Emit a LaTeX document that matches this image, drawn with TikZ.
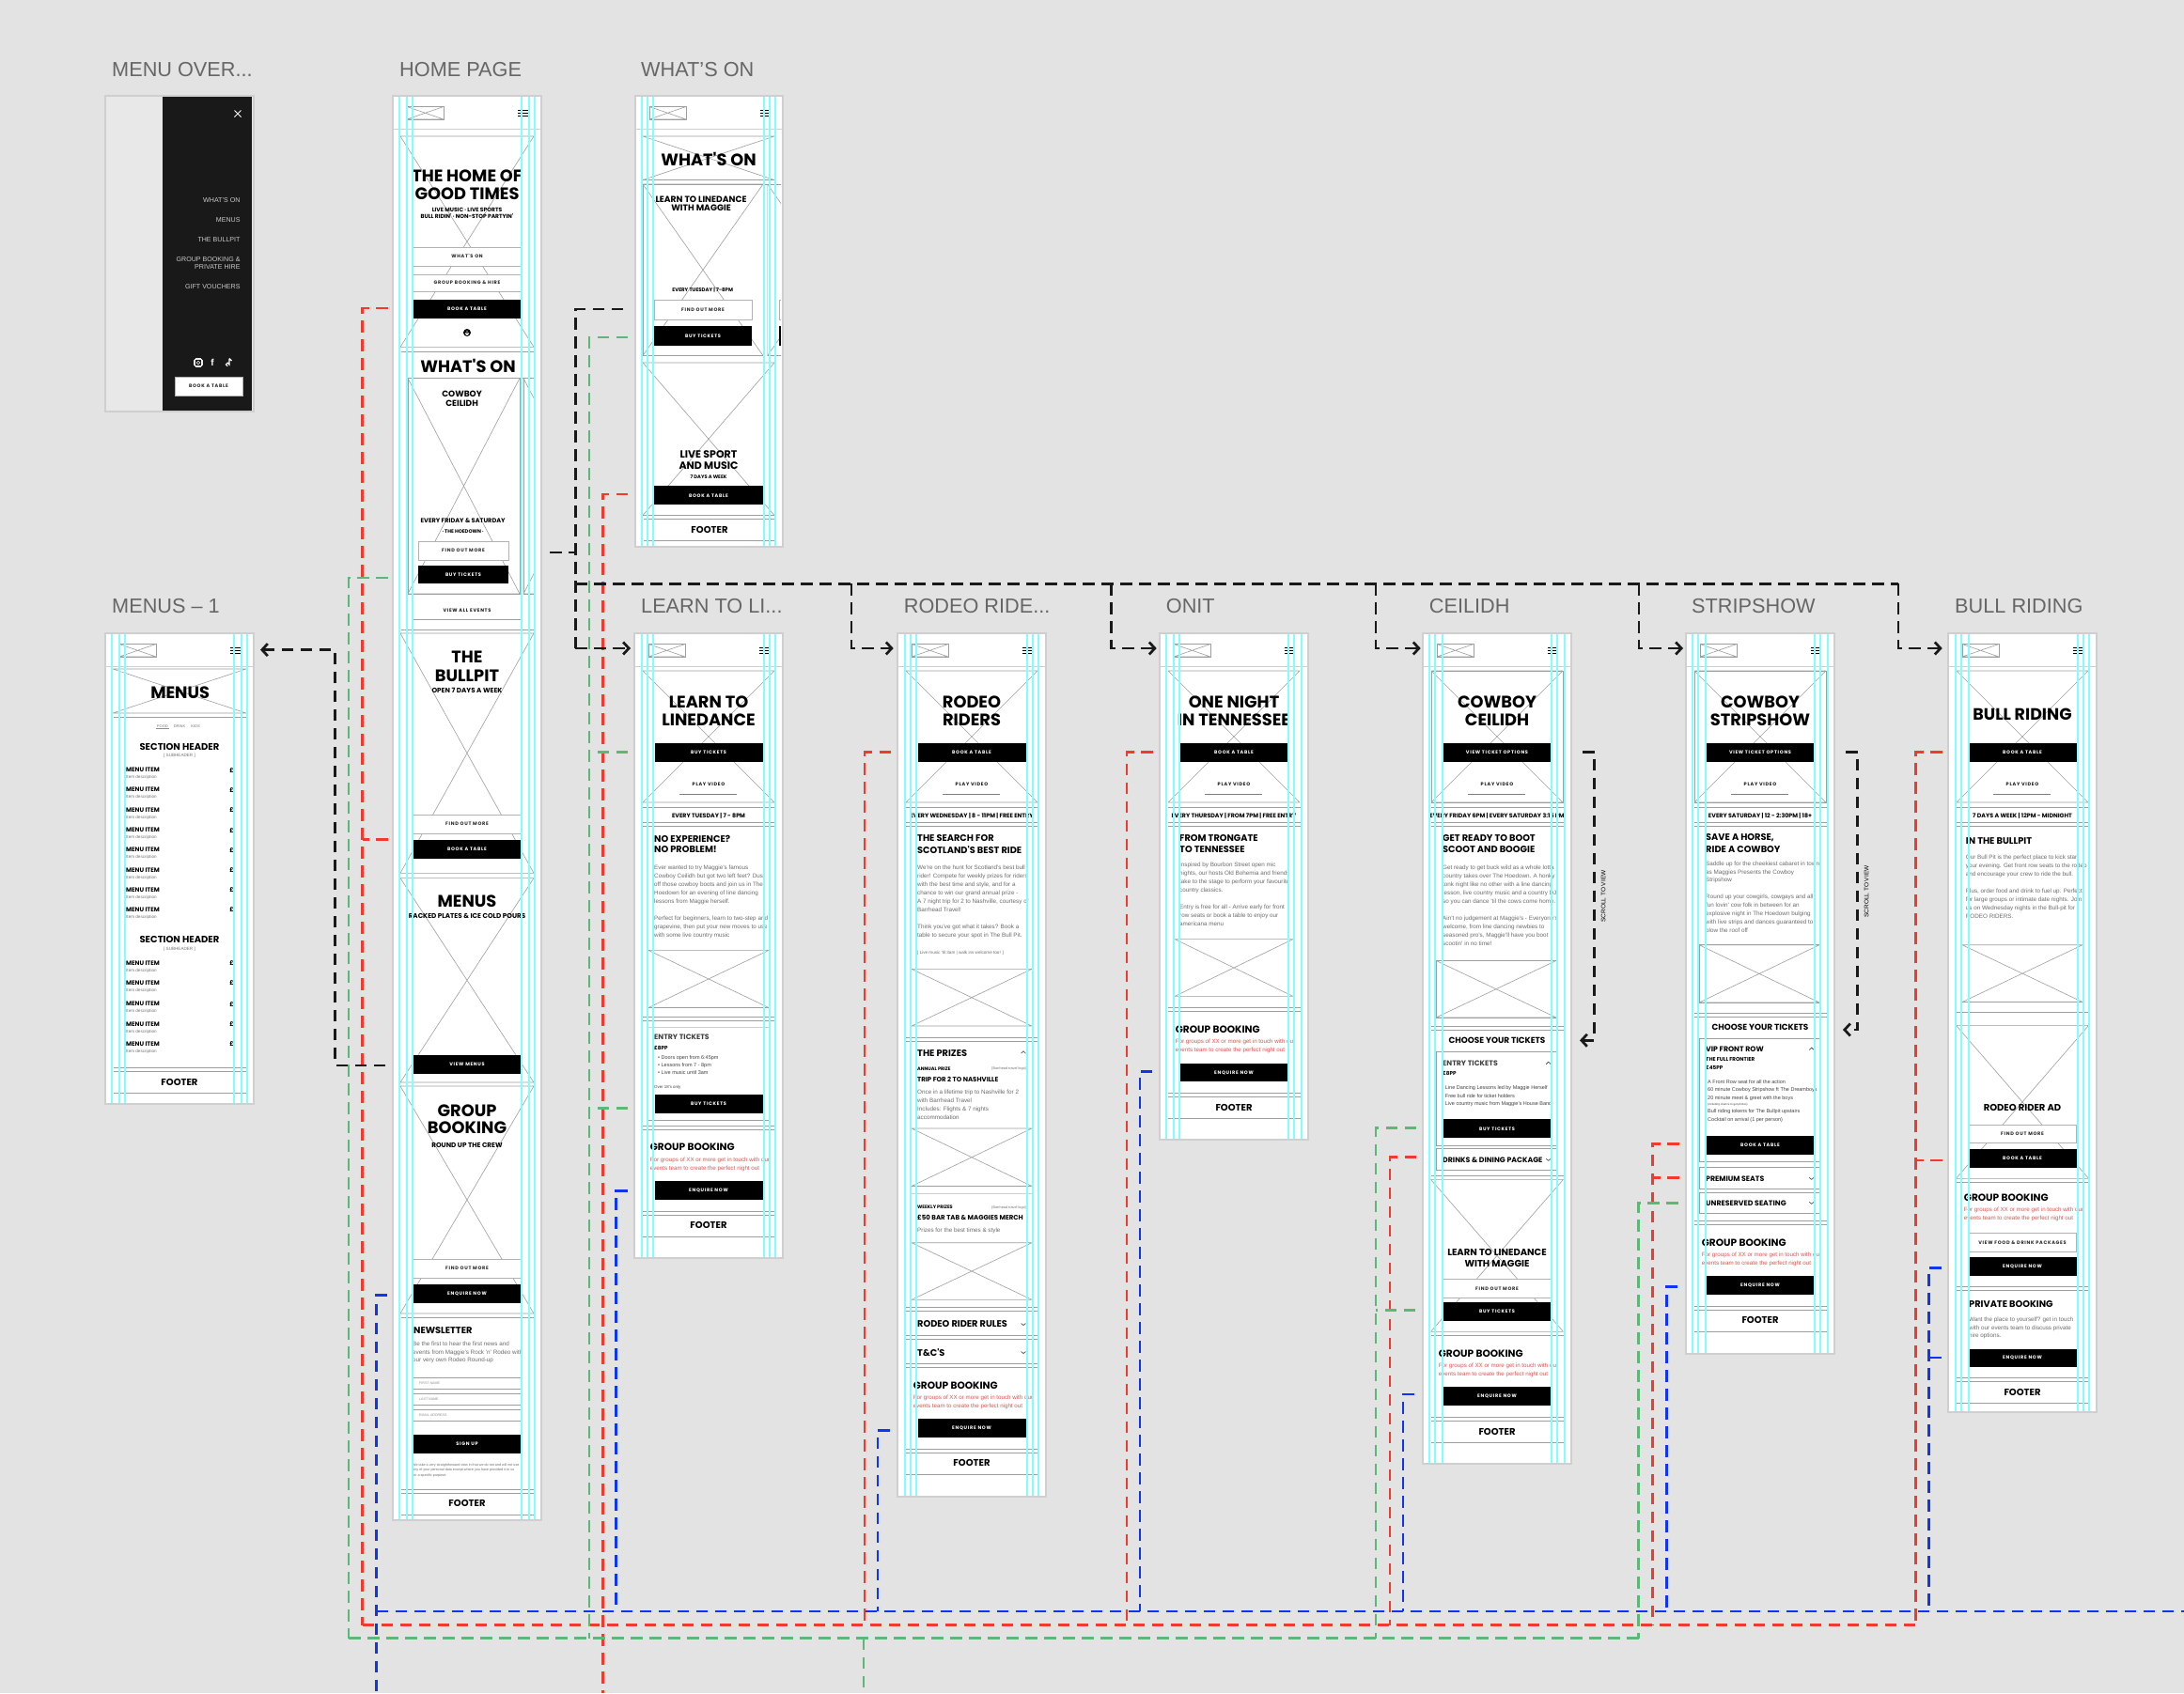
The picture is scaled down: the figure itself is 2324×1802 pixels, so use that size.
\documentclass[tikz,border=0pt]{standalone}
\usepackage{fontspec}
\usepackage{xcolor}
\usetikzlibrary{calc, positioning, arrows.meta}
\setmainfont{Liberation Sans}
\newfontfamily\mont{Poppins}
\newfontfamily\montsp[LetterSpace=14]{Poppins}
\definecolor{bgc}{HTML}{E3E3E3}
\definecolor{edge}{HTML}{CFCFCF}
\definecolor{wirec}{HTML}{9E9E9E}
\definecolor{guide}{HTML}{7FFFFF}
\definecolor{redl}{HTML}{EE3A2F}
\definecolor{grnl}{HTML}{5CB874}
\definecolor{blul}{HTML}{0F35F0}
\definecolor{redt}{HTML}{D9534F}
\newcounter{nd}
\newcommand{\mf}[1]{\mont\bfseries\fontsize{#1}{#1}\selectfont}
\tikzset{
  scr/.style={draw=edge, line width=2pt, fill=white, inner sep=0, outer sep=0, anchor=north west},
  ttl/.style={inner sep=0, anchor=west, text=black!60, font=\fontsize{21.7}{22}\selectfont},
  wire/.style={draw=wirec, line width=.6pt},
  rul/.style={draw=wirec, line width=.9pt},
  txt/.style={inner sep=0},
  hd/.style={font=\mf{17.8}},
  sb/.style={font=\mf{6}},
  sbb/.style={font=\mf{7.2}},
  hb/.style={anchor=west, font=\mf{9.8}},
  hc/.style={font=\mf{10}},
  hm/.style={anchor=west, font=\mf{7.8}},
  hr/.style={anchor=west, font=\mf{9.8}},
  bd/.style={anchor=west, text=black!58, font=\fontsize{6.3}{6}\selectfont},
  bdr/.style={anchor=west, text=redt, font=\fontsize{6.2}{6}\selectfont},
  tn/.style={anchor=west, text=black!75, font=\fontsize{5.5}{6}\selectfont},
  sm/.style={text=black!55, font=\fontsize{4.6}{5}\selectfont},
  lab/.style={font=\montsp\bfseries\fontsize{5}{5}\selectfont},
  mi/.style={anchor=west, font=\mf{6.5}},
  dsh/.style={dash pattern=on 12.5pt off 7.5pt, line width=2.7pt},
  rd/.style={dsh, draw=redl},
  gn/.style={dsh, draw=grnl},
  bu/.style={dsh, draw=blul},
  bk/.style={dsh, draw=black!90},
  bkt/.style={bk, -{Straight Barb[length=6pt,width=13pt]}}
}
\newcommand{\tx}[4][]{\stepcounter{nd}\node[txt,#1] (t\arabic{nd}) at ({#2},{#3}) {#4};}
\newcommand{\xbox}[4]{\draw[wire] (#1,#2) -- (#3,#2) (#1,#4) -- (#3,#4) (#1,#2) -- (#3,#4) (#1,#4) -- (#3,#2);}
\newcommand{\xboxf}[4]{\xbox{#1}{#2}{#3}{#4} \draw[wire] (#1,#2) rectangle (#3,#4);}
\newcommand{\rules}[1]{\foreach \yy in {#1} \draw[rul] (8.5,\yy) -- (149.5,\yy);}
\newcommand{\bbx}[5]{\fill[black] (#1,#3) rectangle (#2,#4); \tx[lab,text=white]{(#1+#2)/2}{(#3+#4)/2}{#5}}
\newcommand{\bbtn}[3]{\bbx{21.5}{136.5}{#1}{#2}{#3}}
\newcommand{\wbx}[5]{\draw[rul, fill=white, draw=black!30] (#1,#3) rectangle (#2,#4); \tx[lab,text=black!85]{(#1+#2)/2}{(#3+#4)/2}{#5}}
\newcommand{\wbtn}[3]{\wbx{21.5}{136.5}{#1}{#2}{#3}}
\newcommand{\hdr}[1]{
  \xboxf{15}{#1+11.5}{54}{#1+25}
  \foreach \dd in {15.5,18.5,21.5} \draw[black, line width=.7pt] (133,#1+\dd) -- (143.5,#1+\dd);
  \draw[draw=edge, line width=.8pt] (0,#1+35) -- (158,#1+35);
}
\newcommand{\chev}[3]{\draw[black!80, line width=.6pt] (#1-2.5,#2-#3) -- (#1,#2+#3) -- (#1+2.5,#2-#3);}
\newcommand{\evtop}[2]{
  \hdr{674}
  \xbox{9}{714}{149}{854}
  \bbtn{791}{811}{#1}
  \tx[lab,text=black!90]{79}{835}{PLAY VIDEO}
  \draw[draw=black!50, line width=.7pt] (48,845) -- (109,845);
  \rules{859,875.5,879.6}
  \tx[font=\mf{6.3}]{79}{868}{#2}
}
\newcommand{\ttwo}[2]{\tx[hd]{79}{747}{#1} \tx[hd]{79}{766}{#2}}
\newcommand{\grptxt}[1]{
  \tx[hb, font=\mf{10.6}]{16.7}{#1}{GROUP BOOKING}
  \tx[bdr]{16.7}{#1+13.4}{For groups of XX or more get in touch with our}
  \tx[bdr]{16.7}{#1+22.4}{events team to create the perfect night out}
}
\newcommand{\foot}[1]{
  \rules{#1,#1+4,#1+27}
  \tx[font=\mf{10}]{79}{#1+15}{FOOTER}
}
\newcommand{\guides}[1]{\foreach \gx/\gt/\gb in {#1} \draw[guide, line width=2.4pt] (\gx,\gt) -- (\gx,\gb);}
\newcommand{\gset}[9]{\guides{#1/#8/#9,#2/#8/#9,#3/#8/#9,#4/#8/#9,#5/#8/#9,#6/#8/#9}}

\begin{document}
\begin{tikzpicture}[x=1pt, y=-1pt]
\useasboundingbox (0,0) rectangle (2324,1802);
\fill[bgc] (0,0) rectangle (2324,1802);

\node[scr, fill=black!9, minimum width=158pt, minimum height=336pt] (over) at (112,102) {};
\node[scr, minimum width=158pt, minimum height=1516pt] (home) at (418,102) {};
\node[scr, minimum width=157pt, minimum height=480pt] (whats) at (676,102) {};
\node[scr, minimum width=158pt, minimum height=501pt] (menus) at (112,674) {};
\node[scr, minimum width=158pt, minimum height=665pt] (learn) at (675,674) {};
\node[scr, minimum width=158pt, minimum height=919pt] (rodeo) at (955,674) {};
\node[scr, minimum width=158pt, minimum height=539pt] (onit) at (1234,674) {};
\node[scr, minimum width=158pt, minimum height=884pt] (ceil) at (1514,674) {};
\node[scr, minimum width=158pt, minimum height=767pt] (strip) at (1794,674) {};
\node[scr, minimum width=158pt, minimum height=829pt] (bull) at (2073,674) {};

\node[ttl] (overt) at (119,74) {MENU OVER...};
\node[ttl] (homet) at (425,74) {HOME PAGE};
\node[ttl] (whatst) at (682,74) {WHAT'S ON};
\node[ttl] (menust) at (119,645) {MENUS – 1};
\node[ttl] (learnt) at (682,645) {LEARN TO LI...};
\node[ttl] (rodeot) at (961.7,645) {RODEO RIDE...};
\node[ttl] (onitt) at (1240.7,645) {ONIT};
\node[ttl] (ceilt) at (1520.7,645) {CEILIDH};
\node[ttl] (stript) at (1800,645) {STRIPSHOW};
\node[ttl] (bullt) at (2080,645) {BULL RIDING};

\begin{scope}[shift={(112,0)}]
\fill[black!90] (60.7,103) rectangle (156,437);
\draw[white, line width=.8pt] (137.5,117.5) -- (144.5,124.5) (137.5,124.5) -- (144.5,117.5);
\foreach \yy/\lb in {213/{WHAT'S ON},234/MENUS,255/THE BULLPIT,276/{GROUP BOOKING \&},284/PRIVATE HIRE,305/GIFT VOUCHERS}
  \tx[anchor=east, text=black!20, font=\fontsize{7.1}{7}\selectfont]{143.7}{\yy}{\lb}
\draw[white, line width=.6pt, rounded corners=1.5pt] (95,382) rectangle (103,390);
\draw[white, line width=.5pt] (99,386) circle (1.8);
\tx[text=white, font=\bfseries\fontsize{10}{10}\selectfont]{114}{386}{f}
\draw[white, line width=1.1pt] (132,381.5) -- (132,388) arc (0:-270:1.8) (132,381.5) -- (134.5,384);
\wbx{74}{146}{401}{421}{BOOK A TABLE}
\end{scope}

\begin{scope}[shift={(418,0)}]
\hdr{102}
\xbox{8}{145}{150}{369.3}
\tx[hd]{79}{187}{THE HOME OF}
\tx[hd]{79}{206}{GOOD TIMES}
\tx[sb]{79}{223.6}{LIVE MUSIC · LIVE SPORTS}
\tx[sb]{79}{230.4}{BULL RIDIN' · NON-STOP PARTYIN'}
\wbtn{263}{283}{WHAT'S ON}
\wbtn{292}{310}{GROUP BOOKING \& HIRE}
\bbtn{318.6}{338.6}{BOOK A TABLE}
\fill[black] (79,354) circle (4);
\draw[white, line width=.8pt] (79,351.5) -- (79,356) (77,354.5) -- (79,356.5) -- (81,354.5);
\rules{374.6}
\tx[hd]{80}{389}{WHAT'S ON}
\draw[rul] (16,402.5) -- (150,402.5);
\xboxf{16}{402.5}{135}{632}
\begin{scope}
\clip (139,402) rectangle (150,632);
\xboxf{139}{402.5}{258}{632}
\end{scope}
\tx[font=\mf{9}]{73.6}{419}{COWBOY}
\tx[font=\mf{9}]{73.6}{429}{CEILIDH}
\tx[font=\mf{6.6}]{74.6}{554.6}{EVERY FRIDAY \& SATURDAY}
\tx[font=\mf{5.2}]{74.6}{566}{· THE HOEDOWN ·}
\wbx{27}{123}{576}{596}{FIND OUT MORE}
\bbx{27}{123}{602}{621}{BUY TICKETS}
\fill[white] (21.5,633) rectangle (136.5,659.6);
\draw[rul] (21.5,659.6) -- (136.5,659.6);
\tx[lab,text=black!90]{79}{650}{VIEW ALL EVENTS}
\rules{670}
\xbox{8}{674}{150}{929.3}
\tx[hd]{79}{699}{THE}
\tx[hd]{79}{719}{BULLPIT}
\tx[sbb]{79}{735}{OPEN 7 DAYS A WEEK}
\wbtn{867}{887}{FIND OUT MORE}
\bbtn{893.6}{914}{BOOK A TABLE}
\xbox{8}{934.6}{150}{1152}
\tx[hd]{79}{959}{MENUS}
\tx[sbb]{79}{975}{RACKED PLATES \& ICE COLD POURS}
\bbtn{1123}{1143}{VIEW MENUS}
\xbox{8}{1156}{150}{1398}
\tx[hd]{79}{1182}{GROUP}
\tx[hd]{79}{1200.7}{BOOKING}
\tx[sbb]{79}{1218.6}{ROUND UP THE CREW}
\wbtn{1340}{1360}{FIND OUT MORE}
\bbtn{1366.6}{1387}{ENQUIRE NOW}
\rules{1402}
\tx[hb]{22}{1416}{NEWSLETTER}
\tx[bd]{21}{1430}{Be the first to hear the first news and}
\tx[bd]{21}{1439.5}{events from Maggie's Rock 'n' Rodeo with}
\tx[bd]{21}{1447.4}{our very own Rodeo Round-up}
\foreach \yy/\lb in {1466/FIRST NAME,1483/LAST NAME,1500/EMAIL ADDRESS} {
  \draw[rul] (21.5,\yy) -- (136.5,\yy) (21.5,\yy+12.5) -- (136.5,\yy+12.5);
  \tx[anchor=west, text=black!45, font=\fontsize{3.6}{4}\selectfont]{28}{\yy+6.2}{\lb}
}
\bbtn{1527}{1547}{SIGN UP}
\tx[bd, font=\fontsize{3.7}{4}\selectfont]{21}{1559.6}{We take a very straightforward view in that we do not and will not use}
\tx[bd, font=\fontsize{3.7}{4}\selectfont]{21}{1565}{any of your personal data except where you have provided it to us}
\tx[bd, font=\fontsize{3.7}{4}\selectfont]{21}{1571}{for a specific purpose.}
\foot{1585.3}
\end{scope}

\begin{scope}[shift={(676,0)}]
\hdr{102}
\xbox{8}{145}{148}{191.5}
\tx[hd]{78}{169}{WHAT'S ON}
\draw[rul] (8,196) -- (155,196);
\xboxf{8}{196}{136}{378.5}
\begin{scope}
\clip (140.7,196) rectangle (155,379);
\xboxf{140.7}{196}{268}{378.5}
\end{scope}
\tx[hc,font=\mf{9.2}]{70}{212}{LEARN TO LINEDANCE}
\tx[hc,font=\mf{9.2}]{70}{221.6}{WITH MAGGIE}
\tx[font=\mf{5.4}]{71.7}{309}{EVERY TUESDAY | 7-8PM}
\wbx{20}{124}{319.6}{340}{FIND OUT MORE}
\bbx{20}{124}{347.4}{367.6}{BUY TICKETS}
\fill[black] (153,347.4) rectangle (155,367.6);
\draw[rul, draw=black!30] (155,319.6) -- (153,319.6) -- (153,340) -- (155,340);
\xbox{8}{386}{148}{548.5}
\tx[font=\mf{11}]{78}{483.6}{LIVE SPORT}
\tx[font=\mf{11}]{78}{495.4}{AND MUSIC}
\tx[font=\mf{5.2}]{78}{508}{7 DAYS A WEEK}
\bbx{20}{136}{517.4}{537.4}{BOOK A TABLE}
\foot{548.5}
\end{scope}

\begin{scope}[shift={(112,0)}]
\hdr{674}
\xbox{8}{712}{150}{759}
\tx[hd]{79.7}{737}{MENUS}
\rules{763}
\tx[sm,font=\fontsize{4}{4}\selectfont]{61}{773.5}{FOOD}
\tx[sm,font=\fontsize{4}{4}\selectfont]{79}{773.5}{DRINK}
\tx[sm,font=\fontsize{4}{4}\selectfont]{96}{773.5}{KIDS}
\draw[black!45, line width=.3pt] (54,775.5) -- (68,775.5);
\foreach \yy in {794.5,1000.4} {
  \tx[hc]{79}{\yy}{SECTION HEADER}
  \tx[sm]{79}{\yy+10}{[ SUBHEADER ]}
}
\foreach \yy in {819.6,840.7,862.5,883.6,904.7,925.8,946.9,968,1025.5,1046.5,1068.7,1089.8,1111} {
  \tx[mi]{22}{\yy}{MENU ITEM}
  \tx[sm, anchor=west]{22}{\yy+8}{Item description}
  \tx[mi, anchor=east]{137}{\yy}{£}
}
\rules{1136.4,1140,1163.6}
\tx[font=\mf{10}]{79}{1152.4}{FOOTER}
\end{scope}

\begin{scope}[shift={(675,0)}]
\evtop{BUY TICKETS}{EVERY TUESDAY | 7 - 8PM}
\ttwo{LEARN TO}{LINEDANCE}
\tx[hb]{21}{892.5}{NO EXPERIENCE?}
\tx[hb]{21}{904}{NO PROBLEM!}
\tx[bd]{21}{923.6}{Ever wanted to try Maggie's famous}
\tx[bd]{21}{932.5}{Cowboy Ceilidh but got two left feet? Dust}
\tx[bd]{21}{941.4}{off those cowboy boots and join us in The}
\tx[bd]{21}{950.7}{Hoedown for an evening of line dancing}
\tx[bd]{21}{959.6}{lessons from Maggie herself.}
\tx[bd]{21}{977.5}{Perfect for beginners, learn to two-step and}
\tx[bd]{21}{986.8}{grapevine, then put your new moves to use}
\tx[bd]{21}{995.7}{with some live country music}
\xbox{15}{1011.4}{143}{1072.5}
\rules{1082,1086.4}
\draw[draw=edge, line width=.8pt] (15,1093) -- (143,1093);
\tx[hm, text=black!75]{21}{1104}{ENTRY TICKETS}
\tx[mi, font=\mf{5.6}]{21}{1115}{£8PP}
\tx[tn]{25}{1125.7}{• Doors open from 6:45pm}
\tx[tn]{25}{1134}{• Lessons from 7 - 8pm}
\tx[tn]{25}{1141.8}{• Live music until 3am}
\tx[tn, font=\fontsize{4.4}{4}\selectfont]{21}{1157}{Over 18's only}
\bbtn{1164.5}{1185}{BUY TICKETS}
\draw[rul] (15,1192.4) -- (143,1192.4);
\rules{1198,1202.4}
\grptxt{1221}
\bbtn{1257}{1277}{ENQUIRE NOW}
\foot{1289.3}
\end{scope}

\begin{scope}[shift={(955,0)}]
\evtop{BOOK A TABLE}{EVERY WEDNESDAY | 8 - 11PM | FREE ENTRY}
\ttwo{RODEO}{RIDERS}
\tx[hb]{21}{892}{THE SEARCH FOR}
\tx[hb]{21}{904.5}{SCOTLAND'S BEST RIDE}
\tx[bd]{21}{923.7}{We're on the hunt for Scotland's best bull}
\tx[bd]{21}{932.7}{rider!  Compete for weekly prizes for riders}
\tx[bd]{21}{941.6}{with the best time and style, and for a}
\tx[bd]{21}{950.6}{chance to win our grand annual prize -}
\tx[bd]{21}{959.6}{A 7 night trip for 2 to Nashville, courtesy of}
\tx[bd]{21}{968.6}{Barrhead Travel!}
\tx[bd]{21}{986.5}{Think you've got what it takes? Book a}
\tx[bd]{21}{995.5}{table to secure your spot in The Bull Pit.}
\tx[bd, font=\fontsize{4.6}{4}\selectfont]{21}{1014}{[ Live music 'til 3am | walk ins welcome too! ]}
\xbox{15}{1031.4}{143}{1092}
\rules{1104.8,1108.2}
\tx[hb]{21}{1121.3}{THE PRIZES}
\chev{134}{1120}{-1.2}
\tx[mi, font=\mf{5}]{21}{1138}{ANNUAL PRIZE}
\tx[sm, anchor=east, font=\fontsize{3.8}{4}\selectfont]{137}{1138}{[Barrhead travel logo]}
\tx[mi, font=\mf{7}]{21}{1148.5}{TRIP FOR 2 TO NASHVILLE}
\tx[bd]{21}{1162.6}{Once in a lifetime trip to Nashville for 2}
\tx[bd]{21}{1171.6}{with Barrhead Travel}
\tx[bd]{21}{1180.5}{Includes: Flights \& 7 nights}
\tx[bd]{21}{1189.5}{accommodation}
\xbox{15}{1201}{143}{1262.5}
\draw[draw=edge, line width=.8pt] (15,1270) -- (143,1270);
\tx[mi, font=\mf{5}]{21}{1285}{WEEKLY PRIZES}
\tx[sm, anchor=east, font=\fontsize{3.8}{4}\selectfont]{137}{1285}{[Barrhead travel logo]}
\tx[mi, font=\mf{7}]{21}{1295.5}{£50 BAR TAB \& MAGGIES MERCH}
\tx[bd]{21}{1309.7}{Prizes for the best times \& style}
\xbox{15}{1322.7}{143}{1383.3}
\rules{1391.6,1395.7}
\tx[hr]{21}{1409.5}{RODEO RIDER RULES}
\chev{134}{1409.5}{1}
\rules{1421,1425.3}
\tx[hr]{21}{1439.5}{T\&C'S}
\chev{134}{1439.5}{1}
\rules{1451,1455.3}
\grptxt{1474.3}
\bbtn{1510}{1530.4}{ENQUIRE NOW}
\foot{1542.4}
\end{scope}

\begin{scope}[shift={(1234,0)}]
\evtop{BOOK A TABLE}{EVERY THURSDAY | FROM 7PM | FREE ENTRY}
\ttwo{ONE NIGHT}{IN TENNESSEE}
\tx[hb]{21}{892}{FROM TRONGATE}
\tx[hb]{21}{904.5}{TO TENNESSEE}
\tx[bd]{21}{920.8}{Inspired by Bourbon Street open mic}
\tx[bd]{21}{929.8}{nights, our hosts Old Bohemia and friends}
\tx[bd]{21}{938.8}{take to the stage to perform your favourite}
\tx[bd]{21}{947.8}{country classics.}
\tx[bd]{21}{965.7}{Entry is free for all - Arrive early for front}
\tx[bd]{21}{974.7}{row seats or book a table to enjoy our}
\tx[bd]{21}{983.7}{americana menu}
\xbox{16}{999.6}{142}{1060.4}
\rules{1072.7,1076.7}
\grptxt{1095.5}
\bbtn{1131.8}{1151.4}{ENQUIRE NOW}
\foot{1163.7}
\end{scope}

\begin{scope}[shift={(1514,0)}]
\evtop{VIEW TICKET OPTIONS}{EVERY FRIDAY 6PM | EVERY SATURDAY 3:15 PM}
\draw[wire] (9,714) rectangle (149,854);
\ttwo{COWBOY}{CEILIDH}
\tx[hb]{21}{892}{GET READY TO BOOT}
\tx[hb]{21}{904.5}{SCOOT AND BOOGIE}
\tx[bd]{21}{923.7}{Get ready to get buck wild as a whole lotta}
\tx[bd]{21}{932.7}{country takes over The Hoedown. A honky}
\tx[bd]{21}{941.6}{tonk night like no other with a line dancing}
\tx[bd]{21}{950.6}{lesson, live country music and a country DJ,}
\tx[bd]{21}{959.6}{so you can dance 'til the cows come home.}
\tx[bd]{21}{977.5}{Ain't no judgement at Maggie's - Everyone's}
\tx[bd]{21}{986.5}{welcome, from line dancing newbies to}
\tx[bd]{21}{995.5}{seasoned pro's, Maggie'll have you boot}
\tx[bd]{21}{1004.5}{scootin' in no time!}
\xboxf{14}{1022.4}{142}{1083}
\rules{1092,1096.7}
\tx[hc, font=\mf{8.9}]{79}{1107.8}{CHOOSE YOUR TICKETS}
\draw[rul] (14,1119.6) rectangle (142,1219.6);
\draw[rul] (14,1222) rectangle (142,1245);
\tx[hm, text=black!75]{21}{1131.4}{ENTRY TICKETS}
\chev{133.7}{1131.4}{-1.2}
\tx[mi, font=\mf{5.6}]{21}{1142.4}{£8PP}
\tx[tn]{23.7}{1158}{Line Dancing Lessons led by Maggie Herself}
\tx[tn]{23.7}{1167}{Free bull ride for ticket holders}
\tx[tn]{23.7}{1175}{Live country music from Maggie's House Band}
\bbtn{1191.4}{1211.4}{BUY TICKETS}
\tx[hm]{21}{1234.3}{DRINKS \& DINING PACKAGE}
\chev{133.7}{1234.3}{1}
\rules{1251.4}
\xbox{8.5}{1255.4}{149.5}{1417.3}
\tx[hc]{79}{1332.8}{LEARN TO LINEDANCE}
\tx[hc]{79}{1344.7}{WITH MAGGIE}
\wbtn{1361.7}{1381.6}{FIND OUT MORE}
\bbtn{1386.3}{1406}{BUY TICKETS}
\rules{1421}
\grptxt{1440.7}
\bbtn{1476}{1496}{ENQUIRE NOW}
\foot{1508.6}
\end{scope}

\begin{scope}[shift={(1794,0)}]
\evtop{VIEW TICKET OPTIONS}{EVERY SATURDAY | 12 - 2:30PM | 18+}
\draw[wire] (9,714) rectangle (149,854);
\ttwo{COWBOY}{STRIPSHOW}
\tx[hb]{21}{892}{SAVE A HORSE,}
\tx[hb]{21}{904.5}{RIDE A COWBOY}
\tx[bd]{21}{919.6}{Saddle up for the cheekiest cabaret in town}
\tx[bd]{21}{928.6}{as Maggies Presents the Cowboy}
\tx[bd]{21}{936.7}{Stripshow}
\tx[bd]{21}{954.7}{Round up your cowgirls, cowgays and all}
\tx[bd]{21}{963.7}{fun lovin' cow folk in between for an}
\tx[bd]{21}{972.7}{explosive night in The Hoedown bulging}
\tx[bd]{21}{981.6}{with live strips and dances guaranteed to}
\tx[bd]{21}{990.6}{blow the roof off}
\xboxf{14}{1005.7}{142}{1067}
\rules{1078.8,1082}
\tx[hc, font=\mf{8.9}]{79}{1093.7}{CHOOSE YOUR TICKETS}
\draw[rul] (14,1105.3) rectangle (142,1236.3);
\draw[rul] (14,1242.3) rectangle (142,1265.3);
\draw[rul] (14,1269.3) rectangle (142,1291.3);
\tx[hm]{21}{1116.3}{VIP FRONT ROW}
\chev{133.7}{1116.3}{-1.2}
\tx[mi, font=\mf{5.6}]{21}{1127.7}{THE FULL FRONTIER}
\tx[mi, font=\mf{5.6}]{21}{1136.7}{£45PP}
\tx[tn]{23}{1152}{A Front Row seat for all the action}
\tx[tn]{23}{1160}{60 minute Cowboy Stripshow ft The Dreamboys}
\tx[tn]{23}{1169}{20 minute meet \& greet with the boys}
\tx[tn, font=\fontsize{3}{3}\selectfont]{23}{1175.7}{(including chance to get photos)}
\tx[tn]{23}{1183}{Bull riding tokens for The Bullpit upstairs}
\tx[tn]{23}{1192}{Cocktail on arrival (1 per person)}
\bbtn{1209}{1228.7}{BOOK A TABLE}
\tx[hm]{21}{1254.3}{PREMIUM SEATS}
\chev{133.7}{1254.3}{1}
\tx[hm]{21}{1280.3}{UNRESERVED SEATING}
\chev{133.7}{1280.3}{1}
\rules{1299.3,1303.3}
\grptxt{1322.3}
\bbtn{1358}{1378}{ENQUIRE NOW}
\foot{1390.3}
\end{scope}

\begin{scope}[shift={(2073,0)}]
\evtop{BOOK A TABLE}{7 DAYS A WEEK | 12PM - MIDNIGHT}
\tx[font=\mf{17.5}]{79}{760.8}{BULL RIDING}
\tx[hb]{18.7}{895.5}{IN THE BULLPIT}
\tx[bd]{18.7}{912.7}{Our Bull Pit is the perfect place to kick start}
\tx[bd]{18.7}{921.6}{your evening. Get front row seats to the rodeo}
\tx[bd]{18.7}{930.6}{and encourage your crew to ride the bull.}
\tx[bd]{18.7}{948.6}{Plus, order food and drink to fuel up. Perfect}
\tx[bd]{18.7}{957.6}{for large groups or intimate date nights. Join}
\tx[bd]{18.7}{966.5}{us on Wednesday nights in the Bull-pit for}
\tx[bd]{18.7}{975.5}{RODEO RIDERS.}
\xbox{15}{1005.7}{143}{1066.5}
\rules{1077.6}
\xbox{8.5}{1091.4}{149.5}{1254.3}
\tx[hc]{79}{1179}{RODEO RIDER AD}
\wbtn{1197.3}{1216}{FIND OUT MORE}
\bbtn{1222.7}{1242.7}{BOOK A TABLE}
\rules{1258.7}
\grptxt{1274.3}
\wbtn{1312.7}{1332.3}{VIEW FOOD \& DRINK PACKAGES}
\bbtn{1338.3}{1358.3}{ENQUIRE NOW}
\rules{1369.3,1373.3}
\tx[hb]{22}{1388.3}{PRIVATE BOOKING}
\tx[bd]{22}{1405}{Want the place to yourself? get in touch}
\tx[bd]{22}{1413.7}{with our events team to discuss private}
\tx[bd]{22}{1422}{hire options.}
\bbtn{1435.7}{1455.3}{ENQUIRE NOW}
\foot{1466.7}
\end{scope}

\gset{119}{126.7}{133}{249}{256.7}{263}{}{675}{1174}
\gset{425}{432.7}{439}{555}{562.7}{569}{}{103}{1617}
\gset{683}{689}{695}{813}{819}{825}{}{103}{581}
\gset{683}{689}{695}{813}{819}{825}{}{675}{1338}
\gset{962.7}{969}{975}{1093}{1099}{1105}{}{675}{1592}
\gset{1241}{1249}{1255}{1371}{1377}{1385}{}{675}{1212}
\gset{1520.7}{1527}{1535}{1651}{1657}{1665}{}{675}{1557}
\gset{1801}{1807}{1815}{1931}{1937}{1945}{}{675}{1440}
\gset{2081}{2087}{2095}{2211}{2217}{2223}{}{675}{1502}

\foreach \nm/\px/\py/\bx/\by in {rhome/412.7/328/385.7/1729.6, rwhats/668/526/641.3/1802, rrodeo/948.3/800.4/920/1729.6, ronit/1226.7/800.4/1199/1729.6, rceil/1507/1231.6/1479/1729.6, rstrip/1786.8/1217.3/1758.3/1729.6, rbull/2066.7/800.4/2038.7/1729.6} {
  \coordinate (\nm) at (\px,\py);
  \coordinate (\nm-b) at (\bx,\by);
  \draw[rd] (\nm) -| (\nm-b);
}
\foreach \nm/\px/\py/\bx in {rhometwo/412.7/893.6/385.7, rstriptwo/1786.8/1253.8/1758.3, rbulltwo/2066.7/1235/2038.7} {
  \coordinate (\nm) at (\px,\py);
  \draw[rd] (\nm) -- (\bx,\py);
}
\draw[rd] (rhome-b) -- (rbull-b);

\foreach \nm/\px/\py/\bx in {ghome/412.7/615/371, gwhats/668/359/627, gceil/1507/1200.8/1464, gstrip/1785.7/1280.4/1743.7} {
  \coordinate (\nm) at (\px,\py);
  \coordinate (\nm-b) at (\bx,1743.8);
  \draw[gn] (\nm) -| (\nm-b);
}
\foreach \nm/\px/\py/\bx in {glearn/668/800.4/627, glearntwo/668/1179.5/627, gceiltwo/1506/1394.7/1464} {
  \coordinate (\nm) at (\px,\py);
  \draw[gn] (\nm) -- (\bx,\py);
}
\draw[gn] (ghome-b) -- (gstrip-b);
\coordinate (gtail) at (919,1743.8);
\coordinate (gtailb) at (919,1802);
\draw[gn] (gtail) -- (gtailb);

\foreach \nm/\px/\py/\bx/\by in {bhome/411.7/1378.7/400.7/1802, blearn/668/1267.7/655.7/1715, brodeo/946.7/1522.5/934/1715, bonit/1226/1140.4/1213/1715, bceil/1505/1484/1493/1715, bstrip/1785/1369.7/1773.3/1715, bbull/2065.6/1349.4/2052.6/1715} {
  \coordinate (\nm) at (\px,\py);
  \coordinate (\nm-b) at (\bx,\by);
  \draw[bu] (\nm) -| (\nm-b);
}
\coordinate (bbulltwo) at (2065.6,1445);
\draw[bu] (bbulltwo) -- (2052.6,1445);
\coordinate (bubusl) at (400.7,1715);
\coordinate (bubusr) at (2324,1715);
\draw[bu] (bubusl) -- (bubusr);

\coordinate (homeout) at (585,588);
\coordinate (whatsout) at (663,329);
\coordinate (learnel) at (612.3,690);
\coordinate (learnin) at (671,690);
\coordinate (bustop) at (612.3,621.4);
\coordinate (busend) at (2020,621.4);
\draw[bk] (homeout) -- (homeout -| learnel);
\draw[bk] (whatsout) -| (learnel);
\draw[bkt] (learnel) -- (learnin);
\draw[bk] (bustop) -- (busend);
\foreach \nm/\bx/\ex in {rodeo/906/950.7, onit/1182.7/1230.7, ceil/1464/1511.7, strip/1744/1791, bull/2020/2066.7} {
  \coordinate (\nm-top) at (\bx,621.4);
  \coordinate (\nm-in) at (\ex,690);
  \draw[bkt] (\nm-top) |- (\nm-in);
}
\coordinate (menuout) at (410,1134);
\coordinate (menuel) at (356.7,691.6);
\coordinate (menuin) at (277,691.6);
\draw[bkt] (menuout) -| (menuel) -- (menuin);

\coordinate (ceilsa) at (1684,800.4);
\coordinate (ceilsb) at (1696.7,1107.3);
\coordinate (ceilsc) at (1681,1107.3);
\draw[bkt] (ceilsa) -| (ceilsb) -- (ceilsc);
\node[inner sep=0, rotate=90, font=\fontsize{6.5}{7}\selectfont] (ceilsl) at (1706,954) {SCROLL TO VIEW};
\coordinate (stripsa) at (1964,800.4);
\coordinate (stripsb) at (1976.7,1096);
\coordinate (stripsc) at (1961,1096);
\draw[bkt] (stripsa) -| (stripsb) -- (stripsc);
\node[inner sep=0, rotate=90, font=\fontsize{6.5}{7}\selectfont] (stripsl) at (1986,949) {SCROLL TO VIEW};
\end{tikzpicture}
\end{document}
